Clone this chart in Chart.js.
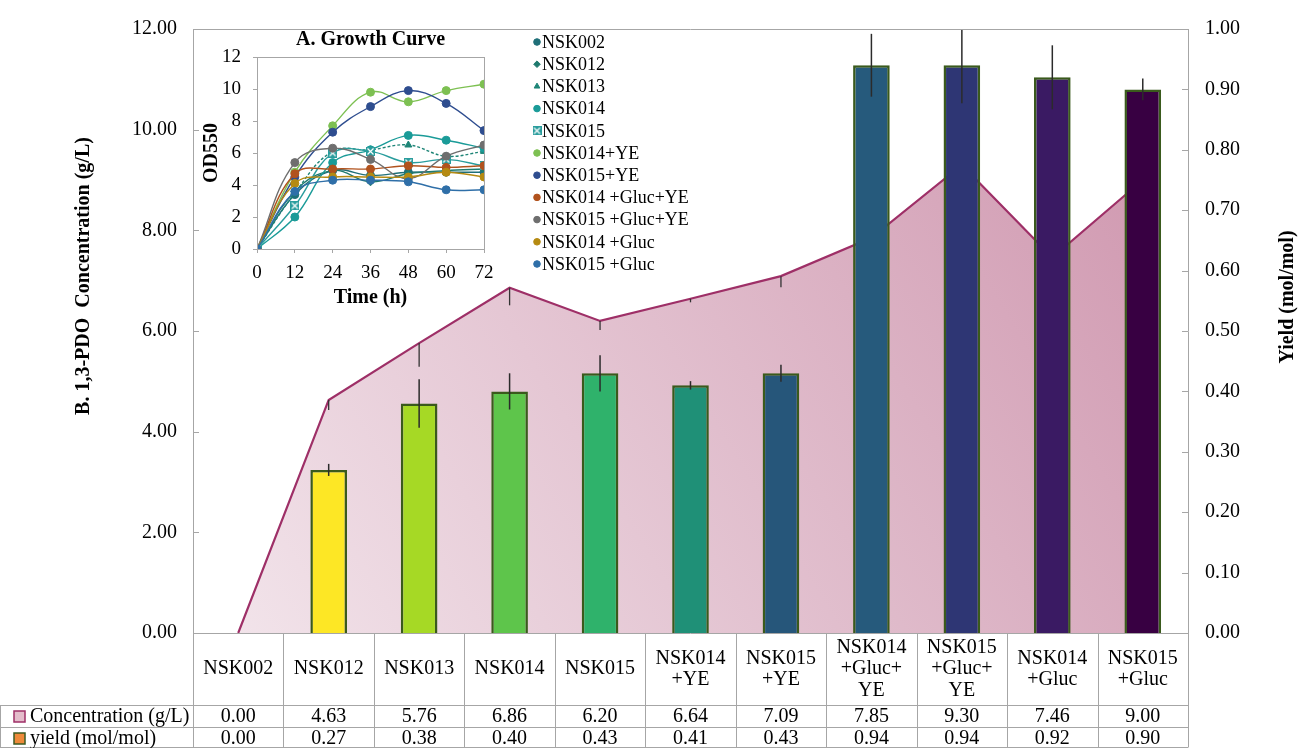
<!DOCTYPE html>
<html>
<head>
<meta charset="utf-8">
<script src="https://cdn.jsdelivr.net/npm/chart.js@4.4.0/dist/chart.umd.min.js"></script>
<style>
html, body { margin: 0; padding: 0; background: #fff; }
#wrap { position: relative; width: 1309px; height: 748px; overflow: hidden; }
#mainChart { position: absolute; left: 0; top: 0; }
#growthChart { position: absolute; left: 196px; top: 22px; }
</style>
</head>
<body>
<div id="wrap">
  <canvas id="mainChart" width="1309" height="748"></canvas>
  <canvas id="growthChart" width="524" height="290"></canvas>
</div>
<script>
const serif = "'Liberation Serif', 'Times New Roman', serif";
const axisGrey = '#a6a6a6';

// Main chart data
const strains = ['NSK002', 'NSK012', 'NSK013', 'NSK014', 'NSK015', 'NSK014 +YE', 'NSK015 +YE',
  'NSK014 +Gluc+YE', 'NSK015 +Gluc+YE', 'NSK014 +Gluc', 'NSK015 +Gluc'];
const headerLines = [['NSK002'], ['NSK012'], ['NSK013'], ['NSK014'], ['NSK015'],
  ['NSK014', '+YE'], ['NSK015', '+YE'], ['NSK014', '+Gluc+', 'YE'], ['NSK015', '+Gluc+', 'YE'],
  ['NSK014', '+Gluc'], ['NSK015', '+Gluc']];
const concentration = [0.00, 4.63, 5.76, 6.86, 6.20, 6.64, 7.09, 7.85, 9.30, 7.46, 9.00];
const concErr = [0, 0.20, 0.47, 0.35, 0.18, 0.07, 0.22, 0.25, 0.25, 0.25, 0.25];
const yieldVals = [0.00, 0.27, 0.38, 0.40, 0.43, 0.41, 0.43, 0.94, 0.94, 0.92, 0.90];
const yieldErr = [0, 0.01, 0.04, 0.03, 0.03, 0.007, 0.014, 0.052, 0.063, 0.053, 0.018];
const concTicks = [0, 2, 4, 6, 8, 10, 12];
const barColors = ['#fde725', '#fde725', '#a6d925', '#5ec54b', '#2fb26b', '#1f9077', '#26567a',
  '#265a7c', '#2e3674', '#3a1a63', '#380042'];

// Growth curve data (OD550 vs time)
const hours = [0, 12, 24, 36, 48, 60, 72];
const odNSK002 = [0, 3.4, 4.9, 4.6, 4.8, 4.8, 4.8];
const odNSK012 = [0, 3.6, 4.9, 4.2, 4.7, 4.9, 5.0];
const odNSK013 = [0, 3.5, 6.1, 6.2, 6.5, 5.8, 6.1];
const odNSK014 = [0, 2.0, 5.4, 6.2, 7.1, 6.8, 6.3];
const odNSK015 = [0, 2.7, 6.0, 6.1, 5.4, 5.6, 5.2];
const odNSK014YE = [0, 4.8, 7.7, 9.8, 9.2, 9.9, 10.3];
const odNSK015YE = [0, 4.5, 7.3, 8.9, 9.9, 9.1, 7.4];
const odNSK014GlucYE = [0, 4.7, 5.0, 5.0, 5.2, 5.1, 5.2];
const odNSK015GlucYE = [0, 5.4, 6.3, 5.6, 4.4, 5.8, 6.5];
const odNSK014Gluc = [0, 4.1, 4.5, 4.5, 4.5, 4.8, 4.5];
const odNSK015Gluc = [0, 3.6, 4.3, 4.3, 4.2, 3.7, 3.7];

const growthNames = ['NSK002', 'NSK012', 'NSK013', 'NSK014', 'NSK015', 'NSK014+YE', 'NSK015+YE',
  'NSK014 +Gluc+YE', 'NSK015 +Gluc+YE', 'NSK014 +Gluc', 'NSK015 +Gluc'];
const growthValues = [odNSK002, odNSK012, odNSK013, odNSK014, odNSK015, odNSK014YE, odNSK015YE,
  odNSK014GlucYE, odNSK015GlucYE, odNSK014Gluc, odNSK015Gluc];
const growthColors = ['#1f6f78', '#1f7a6e', '#1e8577', '#1a9b98', '#2a9d9d', '#7dc052', '#2e4d8f',
  '#b1521d', '#6e6e6e', '#b58a12', '#2f6fa8'];

// crossed box marker for NSK015
const crossBox = document.createElement('canvas');
crossBox.width = 9; crossBox.height = 9;
(function () {
  const c = crossBox.getContext('2d');
  c.fillStyle = '#2a9d9d';
  c.fillRect(0, 0, 9, 9);
  c.strokeStyle = '#fff';
  c.lineWidth = 1.2;
  c.beginPath(); c.moveTo(1.5, 1.5); c.lineTo(7.5, 7.5); c.moveTo(7.5, 1.5); c.lineTo(1.5, 7.5); c.stroke();
})();
const growthPointStyles = ['circle', 'rectRot', 'triangle', 'circle', crossBox, 'circle', 'circle',
  'circle', 'circle', 'circle', 'circle'];

// ---------- main chart ----------
const mainPlugin = {
  id: 'mainExtras',
  afterDatasetDraw(chart, args) {
    if (args.index !== 1) return;
    const ctx = chart.ctx, ys = chart.scales.yLeft;
    ctx.save();
    ctx.strokeStyle = '#333';
    ctx.lineWidth = 1.3;
    args.meta.data.forEach((pt, i) => {
      if (!concErr[i]) return;
      ctx.beginPath();
      ctx.moveTo(pt.x, ys.getPixelForValue(concentration[i]));
      ctx.lineTo(pt.x, ys.getPixelForValue(concentration[i] - concErr[i]));
      ctx.stroke();
    });
    ctx.restore();
  },
  afterDatasetsDraw(chart) {
    const ctx = chart.ctx, ys = chart.scales.yRight, ca = chart.chartArea;
    ctx.save();
    ctx.beginPath();
    ctx.rect(ca.left, ca.top, ca.right - ca.left, ca.bottom - ca.top);
    ctx.clip();
    ctx.strokeStyle = '#2b2b2b';
    ctx.lineWidth = 1.5;
    chart.getDatasetMeta(0).data.forEach((bar, i) => {
      if (!yieldErr[i]) return;
      ctx.beginPath();
      ctx.moveTo(bar.x, ys.getPixelForValue(yieldVals[i] + yieldErr[i]));
      ctx.lineTo(bar.x, ys.getPixelForValue(yieldVals[i] - yieldErr[i]));
      ctx.stroke();
    });
    ctx.restore();
  },
  afterDraw(chart) {
    const ctx = chart.ctx, ca = chart.chartArea, xs = chart.scales.x;
    const yl = chart.scales.yLeft, yr = chart.scales.yRight;
    ctx.save();
    ctx.strokeStyle = axisGrey;
    ctx.lineWidth = 1;
    // plot border top
    ctx.beginPath();
    ctx.moveTo(ca.left, ca.top + 0.5); ctx.lineTo(ca.right, ca.top + 0.5);
    ctx.stroke();
    // inward tick marks
    yl.ticks.forEach(t => {
      const y = Math.round(yl.getPixelForValue(t.value)) + 0.5;
      ctx.beginPath(); ctx.moveTo(ca.left, y); ctx.lineTo(ca.left + 6, y); ctx.stroke();
    });
    yr.ticks.forEach(t => {
      const y = Math.round(yr.getPixelForValue(t.value)) + 0.5;
      ctx.beginPath(); ctx.moveTo(ca.right - 6, y); ctx.lineTo(ca.right, y); ctx.stroke();
    });

    // data table
    const colW = (ca.right - ca.left) / strains.length;
    const rowTop = ca.bottom, row1 = 705, row2 = 727, rowEnd = 747.5;
    ctx.beginPath();
    for (let k = 0; k <= strains.length; k++) {
      const x = Math.round(ca.left + k * colW) + 0.5;
      ctx.moveTo(x, rowTop); ctx.lineTo(x, rowEnd);
    }
    ctx.moveTo(ca.left, rowTop + 0.5); ctx.lineTo(ca.right, rowTop + 0.5);
    [row1, row2].forEach(y => { ctx.moveTo(0, y + 0.5); ctx.lineTo(ca.right, y + 0.5); });
    ctx.moveTo(0, rowEnd); ctx.lineTo(ca.right, rowEnd);
    ctx.moveTo(0.5, row1); ctx.lineTo(0.5, rowEnd);
    ctx.stroke();

    ctx.fillStyle = '#000';
    ctx.font = '20px ' + serif;
    ctx.textAlign = 'center';
    ctx.textBaseline = 'middle';
    const lh = 21.5, hc = (rowTop + row1) / 2;
    headerLines.forEach((lines, i) => {
      const cx = xs.getPixelForValue(i);
      const y0 = hc - (lines.length - 1) * lh / 2;
      lines.forEach((s, j) => ctx.fillText(s, cx, y0 + j * lh));
      ctx.fillText(concentration[i].toFixed(2), cx, (row1 + row2) / 2 + 1);
      ctx.fillText(yieldVals[i].toFixed(2), cx, (row2 + rowEnd) / 2 + 1);
    });

    // row labels with legend keys
    ctx.textAlign = 'left';
    ctx.lineWidth = 1.5;
    ctx.fillStyle = '#e4bccb'; ctx.strokeStyle = '#9e2f67';
    ctx.fillRect(14, 711, 11, 11); ctx.strokeRect(14, 711, 11, 11);
    ctx.fillStyle = '#ee8a3a'; ctx.strokeStyle = '#3d5a22';
    ctx.fillRect(14, 733, 11, 11); ctx.strokeRect(14, 733, 11, 11);
    ctx.fillStyle = '#000';
    ctx.fillText('Concentration (g/L)', 30, (row1 + row2) / 2 + 1);
    ctx.fillText('yield (mol/mol)', 30, (row2 + rowEnd) / 2 + 1);

    // axis titles
    ctx.font = 'bold 20px ' + serif;
    ctx.textAlign = 'center';
    ctx.save();
    ctx.translate(84, 276);
    ctx.rotate(-Math.PI / 2);
    ctx.fillText('B. 1,3-PDO  Concentration (g/L)', 0, 0);
    ctx.restore();
    ctx.save();
    ctx.translate(1288, 297);
    ctx.rotate(-Math.PI / 2);
    ctx.fillText('Yield (mol/mol)', 0, 0);
    ctx.restore();
    ctx.restore();
  }
};

const ctxMain = document.getElementById('mainChart').getContext('2d');
new Chart(ctxMain, {
  data: {
    labels: strains,
    datasets: [
      {
        type: 'bar', label: 'yield (mol/mol)', data: yieldVals, yAxisID: 'yRight',
        backgroundColor: barColors, borderColor: '#3a5a1c', borderWidth: 2.5,
        categoryPercentage: 1, barPercentage: 0.405, order: 0
      },
      {
        type: 'line', label: 'Concentration (g/L)', data: concentration, yAxisID: 'yLeft',
        borderColor: '#9e2f67', borderWidth: 2.2, pointRadius: 0, tension: 0, fill: 'origin',
        backgroundColor: (c) => {
          const ca = c.chart.chartArea;
          if (!ca) return '#e2c2cf';
          const g = c.chart.ctx.createLinearGradient(ca.left, ca.bottom, ca.right, ca.top);
          g.addColorStop(0, '#f3e6ec');
          g.addColorStop(1, '#cd92ab');
          return g;
        },
        order: 1
      }
    ]
  },
  options: {
    responsive: false, animation: false, devicePixelRatio: 1,
    layout: { padding: { top: 22, bottom: 115, left: 0, right: 0 } },
    plugins: { legend: { display: false }, tooltip: { enabled: false } },
    scales: {
      x: { display: false, offset: true },
      yLeft: {
        position: 'left', min: 0, max: 12,
        afterBuildTicks: s => { s.ticks = concTicks.map(v => ({ value: v })); },
        ticks: { callback: v => v.toFixed(2), padding: 16, color: '#000', font: { family: serif, size: 20 } },
        grid: { display: false, drawTicks: false },
        border: { display: true, color: axisGrey },
        afterFit: s => { s.width = 193; }
      },
      yRight: {
        position: 'right', min: 0, max: 1,
        ticks: { stepSize: 0.1, callback: v => v.toFixed(2), padding: 17, color: '#000', font: { family: serif, size: 20 } },
        grid: { display: false, drawTicks: false },
        border: { display: true, color: axisGrey },
        afterFit: s => { s.width = 121; }
      }
    }
  },
  plugins: [mainPlugin]
});

// ---------- growth curve inset ----------
const insetPlugin = {
  id: 'insetExtras',
  afterDraw(chart) {
    const ctx = chart.ctx, ca = chart.chartArea;
    ctx.save();
    ctx.strokeStyle = axisGrey;
    ctx.lineWidth = 1;
    ctx.strokeRect(ca.left + 0.5, ca.top + 0.5, ca.right - ca.left, ca.bottom - ca.top);
    ctx.fillStyle = '#000';
    ctx.font = 'bold 20px ' + serif;
    ctx.textAlign = 'center';
    ctx.textBaseline = 'middle';
    ctx.fillText('A. Growth Curve', (ca.left + ca.right) / 2, 18);

    // legend
    ctx.font = '18px ' + serif;
    ctx.textAlign = 'left';
    growthNames.forEach((name, i) => {
      const y = 20 + i * 22.2;
      ctx.fillStyle = growthColors[i];
      ctx.strokeStyle = growthColors[i];
      Chart.helpers.drawPoint(ctx, { pointStyle: growthPointStyles[i], radius: 3.3, borderWidth: 1, rotation: 0 }, 341, y);
      ctx.fillStyle = '#000';
      ctx.fillText(name, 346, y + 1);
    });
    ctx.restore();
  }
};

const ctxGrowth = document.getElementById('growthChart').getContext('2d');
new Chart(ctxGrowth, {
  type: 'line',
  data: {
    datasets: growthNames.map((name, i) => ({
      label: name,
      data: hours.map((h, j) => ({ x: h, y: growthValues[i][j] })),
      borderColor: growthColors[i],
      backgroundColor: growthColors[i],
      borderWidth: 1.4,
      borderDash: name === 'NSK013' ? [3, 2] : [],
      pointStyle: growthPointStyles[i],
      pointRadius: 4,
      pointBorderWidth: 1,
      tension: 0.4,
      fill: false,
      order: growthNames.length - i
    }))
  },
  options: {
    responsive: false, animation: false, devicePixelRatio: 1,
    layout: { padding: { top: 35, right: 236, left: 0, bottom: 0 } },
    plugins: { legend: { display: false }, tooltip: { enabled: false } },
    scales: {
      x: {
        type: 'linear', min: 0, max: 72,
        ticks: { stepSize: 12, padding: 9, color: '#000', font: { family: serif, size: 19 } },
        grid: { display: true, drawOnChartArea: false, drawTicks: true, tickLength: 4, color: axisGrey },
        border: { color: axisGrey },
        title: { display: true, text: 'Time (h)', color: '#000', font: { family: serif, size: 20, weight: 'bold' }, padding: { top: 0, bottom: 2 } },
        afterFit: s => { s.height = 63; }
      },
      y: {
        min: 0, max: 12,
        ticks: { stepSize: 2, padding: 12, color: '#000', font: { family: serif, size: 19 } },
        grid: { display: true, drawOnChartArea: false, drawTicks: true, tickLength: 4, color: axisGrey },
        border: { color: axisGrey },
        title: { display: true, text: 'OD550', color: '#000', font: { family: serif, size: 20, weight: 'bold' }, padding: { top: 4, bottom: 0 } },
        afterFit: s => { s.width = 61; }
      }
    }
  },
  plugins: [insetPlugin]
});
</script>
</body>
</html>
